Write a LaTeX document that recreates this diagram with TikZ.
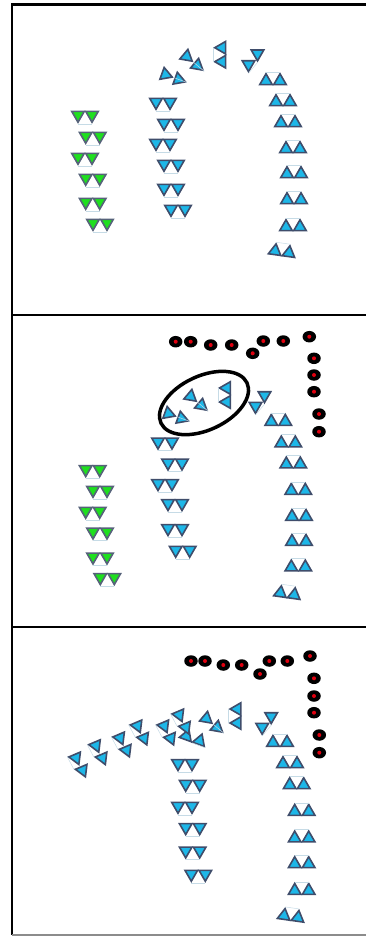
\documentclass[tikz,border=0pt]{standalone}
\usepackage{tikz}
\usetikzlibrary{shapes.geometric}
\definecolor{TriBlue}{HTML}{1DB7E8}
\definecolor{TriGreen}{HTML}{1FDF1F}
\definecolor{TriEdge}{HTML}{3F4D6B}
\definecolor{GreenEdge}{HTML}{56627A}
\definecolor{BondGrey}{HTML}{C6DBE6}
\definecolor{RedCore}{HTML}{E0000F}

\begin{document}
\begin{tikzpicture}[x=1pt,y=-1pt,
  tri/.style={regular polygon,regular polygon sides=3,shape border rotate=180,minimum size=14.5pt,inner sep=0pt,draw=TriEdge,line width=1.6pt,fill=TriBlue},
  greentri/.style={tri,fill=TriGreen,draw=GreenEdge},
  bond/.style={draw=BondGrey,line width=.5pt},
  frame/.style={draw=black,line width=2.6pt},
  dot/.style={ellipse,fill=black,minimum width=13.5pt,minimum height=11.5pt,inner sep=0pt},
  ring/.style={draw=black,line width=3.5pt}]
  \clip (0,0) rectangle (366,938);
  % panels
  \draw[frame] (12,4.5) rectangle (380,315);
  \draw[frame] (12,315) -- (12,627) -- (380,627);
  \draw[frame] (12,627) -- (12,935);
  \draw[draw=black!45,line width=1.5pt] (12,935) -- (380,935);
  % green pairs
  \foreach \px/\py [count=\i] in {85/115,92.7/136,85/157,92.7/178,92.7/202,100/223,
      92.7/469.3,100/490,92.7/511,100/531.7,100/556.7,107.3/577.3} {
    \begin{scope}[shift={(\px,\py)}]
      \node[greentri] (g\i a) at (-7,0) {};
      \node[greentri] (g\i b) at (7,0) {};
      \draw[bond] (g\i a.corner 1) -- (g\i b.corner 1);
    \end{scope}
  }
  % blue pairs: centre / pair rotation / triangle rotation
  \foreach \px/\py/\r/\s [count=\i] in {
      163/102/0/0,171/123/0/0,163/143/0/0,171/164/0/0,171/188/0/0,178/209/0/0,
      172/77/-20/90,192/61/-40/90,222/54.7/-90/0,253/59/50/-50,
      273/81/180/0,283/102/180/0,288/123/180/0,293/149/180/0,294/174/180/0,294/200/180/0,293/227/180/0,282/252/172/0,
      165/441.7/0/0,175/462.7/0/0,165/483.3/0/0,175/503.3/0/0,175/528.3/0/0,182.7/550/0/0,
      175/416/-20/90,196/401/-40/90,226.7/395/-90/0,260/400.7/50/-50,
      278.3/421.7/180/0,288.3/443.3/180/0,293.3/464.3/180/0,298.3/490.7/180/0,299/516.7/180/0,299/541.7/180/0,298.3/567.3/180/0,287.3/594/172/0,
      185/763.3/0/0,192.7/784/0/0,185/806/0/0,192.7/827.3/0/0,192.7/850.7/0/0,198.3/874/0/0,
      193/738.5/-20/60,211.7/723/-40/90,237.3/716/-90/0,266.7/721.7/50/-50,
      182.5/721/-62/-35,167.5/732/-62/-35,140.7/732/-62/-35,123.3/744/-62/-35,99.2/751.7/-62/-35,79.3/764/-62/-35,
      280/742.7/180/0,290/764/180/0,296.7/785/180/0,301.7/811.7/180/0,301.7/838.3/180/0,301.7/864/180/0,301.7/890.7/180/0,291/916.7/172/0} {
    \begin{scope}[shift={(\px,\py)},rotate=\r,transform shape]
      \node[tri,rotate=\s] (b\i a) at (-7,0) {};
      \node[tri,rotate=\s] (b\i b) at (7,0) {};
      \draw[bond] (b\i a.corner 1) -- (b\i b.corner 1);
    \end{scope}
  }
  % red dots
  \foreach \px/\py [count=\i] in {175.7/341.7,190.7/341.7,210.7/345,231.7/345,252.7/353.3,263.3/341,283.3/341,
      309.3/336.7,314/358.3,314/375,314/391.7,319/414,319/431.7,
      191/661,205/661,223.3/665,241.7/665,260/674,269.3/661,287.3/661,
      310/656,314/678.3,314/696,314/712.7,319.3/735,319.3/752.7} {
    \node[dot] (d\i) at (\px,\py) {};
    \fill[RedCore] (d\i.center) circle (2pt);
  }
  % selection ring
  \draw[ring,rotate around={25:(204,403)}] (204,403) ellipse [x radius=47.5,y radius=27];
\end{tikzpicture}
\end{document}
